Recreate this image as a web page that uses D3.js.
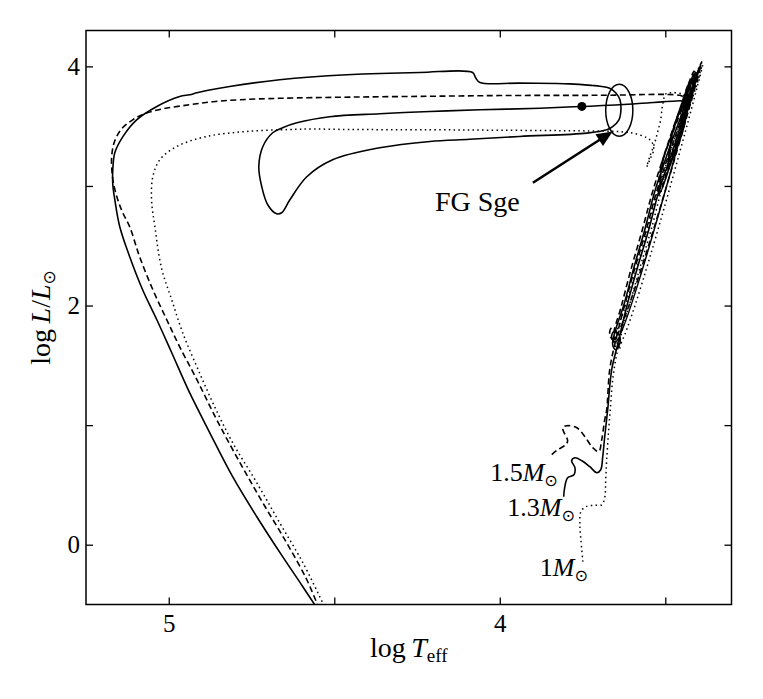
<!DOCTYPE html>
<html>
<head>
<meta charset="utf-8">
<script src="https://cdn.jsdelivr.net/npm/d3@7"></script>
<style>
  html, body { margin: 0; padding: 0; background: #fff; }
  svg text { font-family: "Liberation Serif", "Times New Roman", serif; fill: #000; }
</style>
</head>
<body>
<svg id="chart" width="763" height="699"></svg>
<script>
// evolutionary tracks, [log Teff, log L/Lsun]
// 1.3 Msun (solid): main sequence, RGB, clump, AGB + pulses, born-again loop, WD cooling
const track13 = [
  [3.807,0.401],[3.804,0.477],[3.795,0.560],[3.776,0.585],[3.773,0.644],[3.783,0.702],[3.773,0.727],
  [3.752,0.702],[3.728,0.652],[3.707,0.602],[3.695,0.627],[3.689,0.736],[3.683,0.903],[3.674,1.129],
  [3.662,1.463],[3.644,1.672],[3.619,1.965],[3.586,2.299],[3.550,2.634],[3.520,2.952],[3.489,3.202],
  [3.459,3.453],[3.432,3.671],[3.411,3.854],[3.399,3.972],
  [3.650,1.697],[3.662,1.731],[3.656,1.781],[3.640,1.756],[3.637,1.689],[3.650,1.630],[3.659,1.672],
  [3.650,1.798],[3.625,2.007],[3.595,2.316],[3.562,2.634],[3.532,2.952],[3.502,3.202],[3.471,3.445],
  [3.447,3.620],[3.426,3.771],
  [3.448,3.450],[3.482,3.200],[3.515,2.950],[3.508,3.200],[3.478,3.450],[3.450,3.670],[3.425,3.860],
  [3.432,3.650],[3.460,3.400],[3.489,3.150],[3.478,3.450],[3.446,3.700],[3.418,3.900],[3.424,3.720],
  [3.450,3.500],[3.440,3.740],[3.412,3.940],[3.418,3.760],[3.436,3.620],[3.428,3.820],[3.399,3.960],
  [3.426,3.754],[3.408,3.871],[3.438,3.712],[3.456,3.712],
  [3.547,3.696],[3.637,3.679],[3.752,3.665],[3.879,3.650],[4.060,3.637],[4.211,3.623],[4.363,3.604],
  [4.514,3.579],[4.613,3.528],[4.656,3.487],[4.686,3.445],[4.716,3.328],[4.728,3.160],[4.719,2.993],
  [4.701,2.843],[4.674,2.767],[4.659,2.776],[4.634,2.885],[4.583,3.077],[4.505,3.219],[4.363,3.319],
  [4.211,3.372],[4.091,3.390],[3.940,3.414],[3.737,3.442],[3.677,3.470],[3.659,3.497],[3.640,3.553],
  [3.634,3.637],[3.637,3.721],[3.650,3.779],[3.668,3.817],[3.698,3.834],[3.719,3.840],[3.789,3.854],
  [3.940,3.860],[4.060,3.865],[4.073,3.905],[4.082,3.949],[4.242,3.949],[4.462,3.930],[4.665,3.888],
  [4.816,3.832],[4.885,3.798],[4.915,3.779],[4.937,3.763],[4.967,3.748],[5.036,3.665],[5.097,3.553],
  [5.139,3.411],[5.163,3.278],[5.169,3.135],[5.169,3.010],[5.163,2.885],[5.148,2.659],[5.118,2.408],
  [5.079,2.132],[5.036,1.881],[4.991,1.605],[4.937,1.271],[4.876,0.936],[4.807,0.569],[4.734,0.234],
  [4.656,-0.100],[4.595,-0.351],[4.559,-0.502]
];

// 1.5 Msun (dashed)
const track15 = [
  [3.843,0.753],[3.825,0.794],[3.801,0.836],[3.795,0.870],[3.807,0.945],[3.810,0.978],[3.798,0.995],
  [3.767,0.978],[3.743,0.903],[3.719,0.811],[3.701,0.778],[3.692,0.878],[3.683,1.045],[3.677,1.129],
  [3.668,1.463],[3.653,1.672],[3.628,1.948],[3.595,2.283],[3.559,2.617],[3.529,2.926],[3.498,3.194],
  [3.468,3.428],[3.441,3.637],[3.417,3.829],[3.402,3.955],[3.390,4.038],
  [3.656,1.714],[3.668,1.756],[3.662,1.814],[3.647,1.781],[3.650,1.714],
  [3.656,1.756],[3.634,1.982],[3.604,2.299],[3.571,2.617],[3.541,2.926],[3.511,3.194],[3.480,3.428],
  [3.453,3.620],[3.432,3.771],
  [3.455,3.430],[3.488,3.170],[3.521,2.920],[3.514,3.150],[3.484,3.420],[3.454,3.660],[3.430,3.850],
  [3.438,3.630],[3.466,3.380],[3.492,3.140],[3.480,3.420],[3.450,3.690],[3.421,3.900],[3.428,3.710],
  [3.455,3.490],[3.444,3.730],[3.413,3.960],[3.421,3.770],[3.441,3.610],[3.430,3.840],[3.393,4.005],
  [3.417,3.854],[3.402,3.938],[3.435,3.737],[3.456,3.758],
  [3.698,3.758],[4.000,3.756],[4.211,3.750],[4.453,3.743],[4.665,3.733],[4.785,3.721],[4.867,3.704],
  [4.937,3.679],[5.018,3.645],[5.073,3.604],[5.109,3.553],[5.142,3.478],[5.163,3.378],[5.172,3.261],
  [5.172,3.135],[5.166,3.010],[5.154,2.885],[5.139,2.776],[5.118,2.659],[5.088,2.408],[5.048,2.132],
  [5.006,1.881],[4.967,1.655],[4.915,1.380],[4.855,1.045],[4.785,0.686],[4.716,0.351],[4.644,0.017],
  [4.583,-0.293],[4.553,-0.485],[4.544,-0.544]
];

// 1.0 Msun (dotted)
const track10 = [
  [3.749,-0.142],[3.755,0.042],[3.758,0.167],[3.755,0.276],[3.740,0.318],[3.713,0.330],[3.692,0.334],
  [3.683,0.393],[3.680,0.543],[3.677,0.711],[3.671,0.962],[3.665,1.171],
  [3.659,1.380],[3.647,1.589],[3.628,1.814],[3.604,2.048],[3.574,2.341],[3.541,2.651],[3.511,2.968],
  [3.477,3.236],[3.447,3.487],[3.423,3.696],[3.402,3.871],[3.393,3.972],[3.387,4.013],
  [3.644,1.647],[3.656,1.689],[3.647,1.739],[3.634,1.706],[3.640,1.630],
  [3.647,1.756],[3.619,2.007],[3.586,2.316],[3.553,2.634],[3.523,2.952],[3.492,3.202],[3.465,3.428],
  [3.444,3.620],[3.426,3.754],
  [3.452,3.450],[3.486,3.200],[3.518,2.960],[3.496,3.190],[3.465,3.450],[3.436,3.670],[3.414,3.860],
  [3.440,3.650],[3.464,3.400],[3.488,3.160],[3.462,3.440],[3.432,3.700],[3.405,3.900],[3.428,3.720],
  [3.452,3.520],[3.426,3.740],[3.396,3.930],[3.432,3.737],
  [3.450,3.771],[3.480,3.779],[3.498,3.771],
  [3.508,3.679],[3.514,3.553],[3.523,3.453],[3.532,3.361],[3.547,3.244],[3.556,3.160],[3.547,3.219],
  [3.535,3.303],[3.541,3.370],[3.556,3.403],[3.598,3.442],[3.653,3.456],[3.758,3.461],[4.000,3.466],
  [4.211,3.470],[4.453,3.472],[4.565,3.476],[4.634,3.472],[4.764,3.456],[4.885,3.414],[4.976,3.330],
  [5.027,3.219],[5.048,3.079],[5.052,2.885],[5.042,2.661],[5.022,2.314],[4.991,2.048],[4.958,1.773],
  [4.915,1.488],[4.867,1.187],[4.807,0.853],[4.734,0.518],[4.665,0.184],[4.595,-0.150],[4.535,-0.485],
  [4.523,-0.552]
];

const xTicks = [5, 4.5, 4, 3.5];
const xTickLabels = [5, 4];
const yTicks = [0, 1, 2, 3, 4];
const yTickLabels = [0, 2, 4];

const massNames = ["1.5", "1.3", "1"];
const massLabelPos = [[3.825, 0.535], [3.773, 0.242], [3.734, -0.259]];

// FG Sge position and its error ellipse
const fgSgeCentre = [3.639, 3.633];
const fgSgeError = [0.041, 0.217];
const markerPoint = [3.752, 3.665];
const arrowTail = [3.900, 3.027];
const arrowTip = [3.659, 3.456];
const fgSgeLabelPos = [4.196, 2.793];

const svg = d3.select("#chart");
const x = d3.scaleLinear().domain([5.25, 3.3]).range([86, 731.5]);
const y = d3.scaleLinear().domain([-0.5, 4.3]).range([604.5, 30.5]);
const [x0, x1] = x.range(), [y0, y1] = y.range();

svg.append("defs").append("clipPath").attr("id", "plotclip")
  .append("rect").attr("x", x0).attr("y", y1).attr("width", x1 - x0).attr("height", y0 - y1);

const line = d3.line().x(d => x(d[0])).y(d => y(d[1])).curve(d3.curveCatmullRom.alpha(0.5));
const tracks = svg.append("g").attr("clip-path", "url(#plotclip)");

tracks.append("path").datum(track10).attr("d", line)
  .attr("fill", "none").attr("stroke", "#000").attr("stroke-width", 1.5).attr("stroke-dasharray", "1.5,3.3");
tracks.append("path").datum(track15).attr("d", line)
  .attr("fill", "none").attr("stroke", "#000").attr("stroke-width", 1.6).attr("stroke-dasharray", "6,3.5");
tracks.append("path").datum(track13).attr("d", line)
  .attr("fill", "none").attr("stroke", "#000").attr("stroke-width", 1.6);

// error ellipse + marker
tracks.append("ellipse")
  .attr("cx", x(fgSgeCentre[0])).attr("cy", y(fgSgeCentre[1]))
  .attr("rx", Math.abs(x(fgSgeCentre[0] + fgSgeError[0]) - x(fgSgeCentre[0])))
  .attr("ry", Math.abs(y(fgSgeCentre[1] + fgSgeError[1]) - y(fgSgeCentre[1])))
  .attr("fill", "none").attr("stroke", "#000").attr("stroke-width", 1.5);
tracks.append("circle").attr("cx", x(markerPoint[0])).attr("cy", y(markerPoint[1])).attr("r", 4.5).attr("fill", "#000");

// arrow
const tx = x(arrowTail[0]), ty = y(arrowTail[1]), hx = x(arrowTip[0]), hy = y(arrowTip[1]);
const len = Math.hypot(hx - tx, hy - ty), ux = (hx - tx) / len, uy = (hy - ty) / len;
const headL = 16, headW = 7;
const bx = hx - ux * headL, by = hy - uy * headL;
svg.append("line").attr("x1", tx).attr("y1", ty).attr("x2", bx + ux * 2).attr("y2", by + uy * 2)
  .attr("stroke", "#000").attr("stroke-width", 2.6);
svg.append("path")
  .attr("d", `M${hx},${hy}L${bx - uy * headW},${by + ux * headW}L${bx + uy * headW},${by - ux * headW}Z`)
  .attr("fill", "#000");

svg.append("text").attr("x", x(fgSgeLabelPos[0])).attr("y", y(fgSgeLabelPos[1]))
  .attr("font-size", 28).text("FG Sge");

// mass labels
massNames.forEach((m, i) => {
  const t = svg.append("text").attr("x", x(massLabelPos[i][0])).attr("y", y(massLabelPos[i][1]))
    .attr("text-anchor", "end").attr("font-size", 26);
  t.append("tspan").text(m);
  t.append("tspan").attr("font-style", "italic").text("M");
  t.append("tspan").attr("font-family", "DejaVu Sans").attr("font-size", 16).attr("dy", 5).text("\u2299");
});

// axes, ticks inward on all sides
function styleAxis(g) {
  g.select(".domain").remove();
  g.selectAll(".tick line").attr("stroke", "#000").attr("stroke-width", 1.3);
  g.selectAll(".tick text").attr("font-family", "Liberation Serif, serif").attr("font-size", 25).attr("fill", "#000");
}
const fmtX = d => xTickLabels.includes(d) ? d : "";
const fmtY = d => yTickLabels.includes(d) ? d : "";

svg.append("g").attr("transform", `translate(0,${y0})`)
  .call(d3.axisBottom(x).tickValues(xTicks).tickFormat(fmtX).tickSizeInner(-7).tickSizeOuter(0).tickPadding(10))
  .call(styleAxis);
svg.append("g").attr("transform", `translate(0,${y1})`)
  .call(d3.axisTop(x).tickValues(xTicks).tickFormat("").tickSizeInner(-7).tickSizeOuter(0))
  .call(styleAxis);
svg.append("g").attr("transform", `translate(${x0},0)`)
  .call(d3.axisLeft(y).tickValues(yTicks).tickFormat(fmtY).tickSizeInner(-7).tickSizeOuter(0).tickPadding(6))
  .call(styleAxis);
svg.append("g").attr("transform", `translate(${x1},0)`)
  .call(d3.axisRight(y).tickValues(yTicks).tickFormat("").tickSizeInner(-7).tickSizeOuter(0))
  .call(styleAxis);

svg.append("rect").attr("x", x0).attr("y", y1).attr("width", x1 - x0).attr("height", y0 - y1)
  .attr("fill", "none").attr("stroke", "#000").attr("stroke-width", 1.5);

// axis titles
const xl = svg.append("text").attr("x", (x0 + x1) / 2).attr("y", 657).attr("text-anchor", "middle").attr("font-size", 28);
xl.append("tspan").text("log\u2009");
xl.append("tspan").attr("font-style", "italic").text("T");
xl.append("tspan").attr("font-size", 19).attr("dy", 5).text("eff");

const yl = svg.append("text").attr("transform", `translate(50,${(y0 + y1) / 2}) rotate(-90)`)
  .attr("text-anchor", "middle").attr("font-size", 28);
yl.append("tspan").text("log\u2009");
yl.append("tspan").attr("font-style", "italic").text("L");
yl.append("tspan").text("/");
yl.append("tspan").attr("font-style", "italic").text("L");
yl.append("tspan").attr("font-family", "DejaVu Sans").attr("font-size", 17).attr("dy", 5).text("\u2299");
</script>
</body>
</html>
